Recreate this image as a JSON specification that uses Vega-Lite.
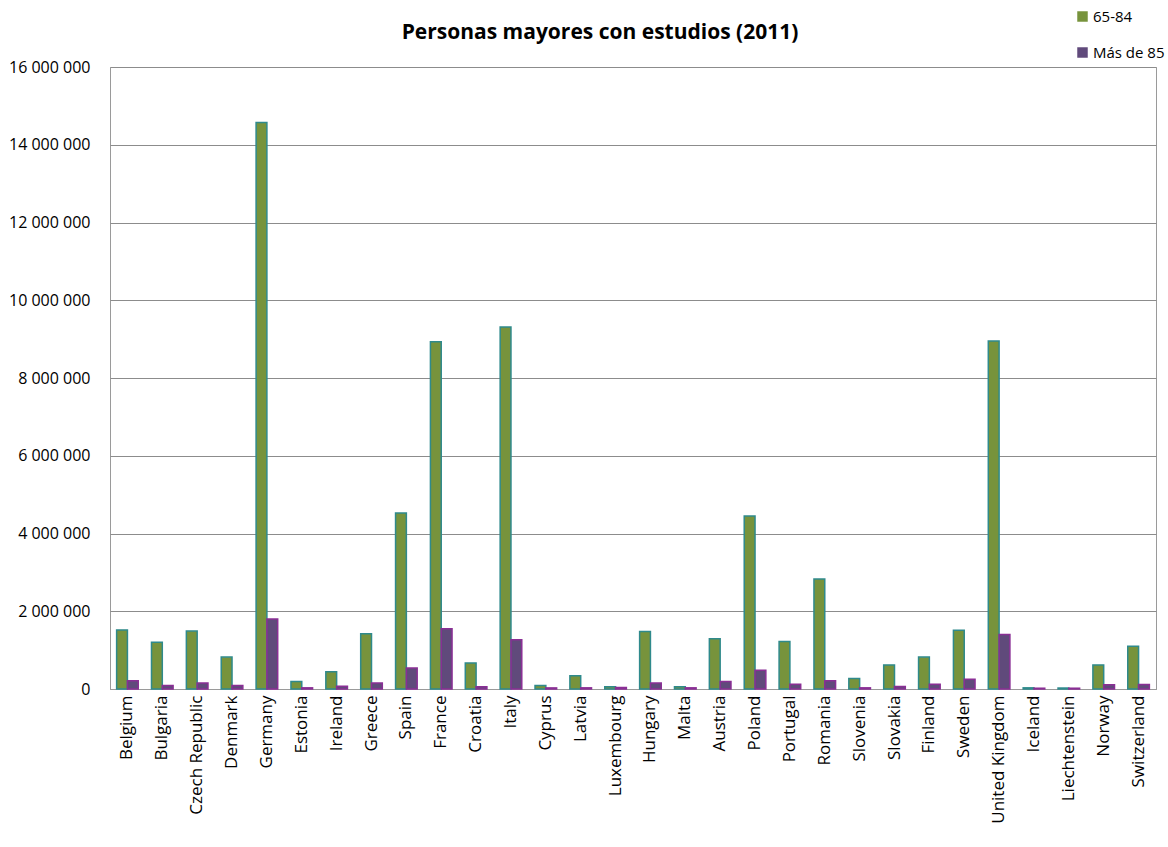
{
  "$schema": "https://vega.github.io/schema/vega-lite/v6.json",
  "width": 1046,
  "height": 622,
  "autosize": {"type": "none"},
  "padding": {"left": 110, "top": 67, "right": 12, "bottom": 158},
  "background": "white",
  "config": {
    "font": "Lato",
    "view": {"stroke": "#9a9a9a", "strokeWidth": 1}
  },
  "title": {
    "text": "Personas mayores con estudios (2011)",
    "font": "Open Sans",
    "fontSize": 21,
    "fontWeight": "bold",
    "color": "#000000",
    "anchor": "middle",
    "dx": -33,
    "offset": -34
  },
  "data": {
    "values": [
      {"country": "Belgium", "group": "65-84", "value": 1520000},
      {"country": "Belgium", "group": "Más de 85", "value": 215000},
      {"country": "Bulgaria", "group": "65-84", "value": 1200000},
      {"country": "Bulgaria", "group": "Más de 85", "value": 92000},
      {"country": "Czech Republic", "group": "65-84", "value": 1490000},
      {"country": "Czech Republic", "group": "Más de 85", "value": 155000},
      {"country": "Denmark", "group": "65-84", "value": 820000},
      {"country": "Denmark", "group": "Más de 85", "value": 92000},
      {"country": "Germany", "group": "65-84", "value": 14570000},
      {"country": "Germany", "group": "Más de 85", "value": 1800000},
      {"country": "Estonia", "group": "65-84", "value": 190000},
      {"country": "Estonia", "group": "Más de 85", "value": 30000},
      {"country": "Ireland", "group": "65-84", "value": 445000},
      {"country": "Ireland", "group": "Más de 85", "value": 68000},
      {"country": "Greece", "group": "65-84", "value": 1420000},
      {"country": "Greece", "group": "Más de 85", "value": 155000},
      {"country": "Spain", "group": "65-84", "value": 4530000},
      {"country": "Spain", "group": "Más de 85", "value": 540000},
      {"country": "France", "group": "65-84", "value": 8930000},
      {"country": "France", "group": "Más de 85", "value": 1550000},
      {"country": "Croatia", "group": "65-84", "value": 670000},
      {"country": "Croatia", "group": "Más de 85", "value": 60000},
      {"country": "Italy", "group": "65-84", "value": 9310000},
      {"country": "Italy", "group": "Más de 85", "value": 1270000},
      {"country": "Cyprus", "group": "65-84", "value": 88000},
      {"country": "Cyprus", "group": "Más de 85", "value": 28000},
      {"country": "Latvia", "group": "65-84", "value": 340000},
      {"country": "Latvia", "group": "Más de 85", "value": 30000},
      {"country": "Luxembourg", "group": "65-84", "value": 60000},
      {"country": "Luxembourg", "group": "Más de 85", "value": 36000},
      {"country": "Hungary", "group": "65-84", "value": 1480000},
      {"country": "Hungary", "group": "Más de 85", "value": 155000},
      {"country": "Malta", "group": "65-84", "value": 60000},
      {"country": "Malta", "group": "Más de 85", "value": 30000},
      {"country": "Austria", "group": "65-84", "value": 1290000},
      {"country": "Austria", "group": "Más de 85", "value": 190000},
      {"country": "Poland", "group": "65-84", "value": 4450000},
      {"country": "Poland", "group": "Más de 85", "value": 480000},
      {"country": "Portugal", "group": "65-84", "value": 1220000},
      {"country": "Portugal", "group": "Más de 85", "value": 122000},
      {"country": "Romania", "group": "65-84", "value": 2830000},
      {"country": "Romania", "group": "Más de 85", "value": 215000},
      {"country": "Slovenia", "group": "65-84", "value": 272000},
      {"country": "Slovenia", "group": "Más de 85", "value": 30000},
      {"country": "Slovakia", "group": "65-84", "value": 620000},
      {"country": "Slovakia", "group": "Más de 85", "value": 62000},
      {"country": "Finland", "group": "65-84", "value": 820000},
      {"country": "Finland", "group": "Más de 85", "value": 122000},
      {"country": "Sweden", "group": "65-84", "value": 1510000},
      {"country": "Sweden", "group": "Más de 85", "value": 250000},
      {"country": "United Kingdom", "group": "65-84", "value": 8950000},
      {"country": "United Kingdom", "group": "Más de 85", "value": 1400000},
      {"country": "Iceland", "group": "65-84", "value": 30000},
      {"country": "Iceland", "group": "Más de 85", "value": 20000},
      {"country": "Liechtenstein", "group": "65-84", "value": 25000},
      {"country": "Liechtenstein", "group": "Más de 85", "value": 20000},
      {"country": "Norway", "group": "65-84", "value": 620000},
      {"country": "Norway", "group": "Más de 85", "value": 112000},
      {"country": "Switzerland", "group": "65-84", "value": 1100000},
      {"country": "Switzerland", "group": "Más de 85", "value": 118000}
    ]
  },
  "mark": {"type": "bar", "strokeWidth": 1.5},
  "encoding": {
    "x": {
      "field": "country",
      "type": "nominal",
      "sort": null,
      "scale": {"paddingInner": 0.38, "paddingOuter": 0.19},
      "axis": {
        "title": null,
        "labelAngle": -90,
        "labelFontSize": 17,
        "labelColor": "#000000",
        "labelFont": "Open Sans",
        "labelPadding": 6,
        "ticks": false,
        "domainColor": "#9a9a9a",
        "labelLimit": 200
      }
    },
    "xOffset": {"field": "group", "type": "nominal", "sort": ["65-84", "Más de 85"]},
    "y": {
      "field": "value",
      "type": "quantitative",
      "scale": {"domain": [0, 16000000], "nice": false},
      "axis": {
        "title": null,
        "values": [0, 2000000, 4000000, 6000000, 8000000, 10000000, 12000000, 14000000, 16000000],
        "labelExpr": "replace(format(datum.value, ','), /,/g, ' ')",
        "labelFontSize": 16,
        "labelColor": "#000000",
        "labelFont": "Open Sans",
        "labelPadding": 20,
        "ticks": false,
        "domain": false,
        "gridColor": "#8c8c8c",
        "gridWidth": 1
      }
    },
    "color": {
      "field": "group",
      "type": "nominal",
      "sort": ["65-84", "Más de 85"],
      "scale": {"domain": ["65-84", "Más de 85"], "range": ["#77933c", "#604a7b"]},
      "legend": {
        "title": null,
        "orient": "none",
        "legendX": 965,
        "legendY": -58,
        "symbolType": "square",
        "symbolSize": 110,
        "symbolStrokeWidth": 0,
        "labelFontSize": 15,
        "labelFont": "Open Sans",
        "labelColor": "#000000",
        "rowPadding": 20,
        "labelOffset": 3
      }
    },
    "stroke": {
      "field": "group",
      "type": "nominal",
      "scale": {"domain": ["65-84", "Más de 85"], "range": ["#2f8a8c", "#8a2f95"]},
      "legend": null
    }
  }
}
